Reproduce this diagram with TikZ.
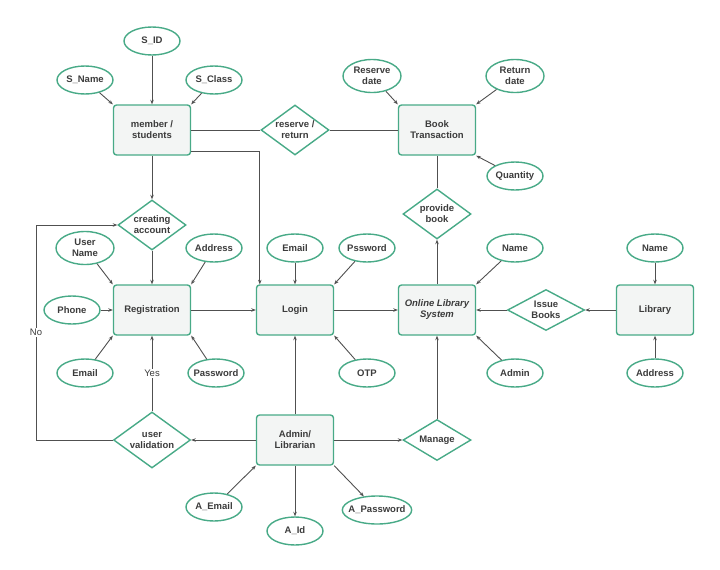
\documentclass[tikz,border=0pt]{standalone}
\usepackage{fontspec}
\setmainfont{Liberation Sans}
\usetikzlibrary{shapes.geometric,arrows.meta}
\definecolor{ergreen}{RGB}{72,170,135}
\definecolor{erline}{RGB}{80,80,80}
\definecolor{erfill}{RGB}{243,245,244}
\definecolor{ertext}{RGB}{60,60,60}
\tikzset{
  erfont/.style={text=ertext, font=\bfseries\fontsize{9.5}{11}\selectfont},
  ent/.style={erfont, draw=ergreen, line width=1.4pt, fill=erfill, rounded corners=3pt,
    minimum width=77pt, minimum height=50pt, align=center},
  attr/.style={erfont, ellipse, draw=ergreen, line width=1.4pt, fill=white,
    minimum width=56pt, minimum height=28pt, inner xsep=-4pt, inner ysep=0.5pt, align=center},
  twoline/.style={minimum width=58pt, minimum height=33pt},
  rel/.style={erfont, diamond, draw=ergreen, line width=1.4pt, fill=white, aspect=1.4,
    minimum width=68pt, minimum height=50pt, inner sep=0pt, align=center},
  con/.style={draw=erline, line width=0.9pt},
  arr/.style={con, -{Stealth[length=4.5pt,width=3.5pt]}},
  lbl/.style={fill=white, text=ertext, inner sep=1.5pt, font=\fontsize{9.5}{11}\selectfont}
}
\begin{document}
\begin{tikzpicture}[x=1pt, y=-1pt]
\useasboundingbox (0,0) rectangle (720,570);
% entities
\node[ent] (member) at (152,130) {member /\\students};
\node[ent] (bt) at (437,130) {Book\\Transaction};
\node[ent] (reg) at (152,310) {Registration};
\node[ent] (login) at (295,310) {Login};
\node[ent] (ols) at (437,310) {\itshape Online Library\\\itshape System};
\node[ent] (lib) at (655,310) {Library};
\node[ent] (admin) at (295,440) {Admin/\\Librarian};
% relations
\node[rel] (resret) at (295,130) {reserve /\\return};
\node[rel] (creating) at (152,225) {creating\\account};
\node[rel] (provide) at (437,214) {provide\\book};
\node[rel, minimum width=77pt, minimum height=41pt] (issue) at (546,310) {Issue\\Books};
\node[rel, minimum width=77pt, minimum height=56pt] (uval) at (152,440) {user\\validation};
\node[rel, minimum height=41pt] (manage) at (437,440) {Manage};
% attributes
\node[attr] (sid) at (152,41) {S\_ID};
\node[attr] (sname) at (85,80) {S\_Name};
\node[attr] (sclass) at (214,80) {S\_Class};
\node[attr, twoline] (rdate) at (372,76) {Reserve\\date};
\node[attr, twoline] (retdate) at (515,76) {Return\\date};
\node[attr] (qty) at (515,176) {Quantity};
\node[attr, twoline] (uname) at (85,248) {User\\Name};
\node[attr] (raddr) at (214,248) {Address};
\node[attr] (lemail) at (295,248) {Email};
\node[attr] (lpass) at (367,248) {Pssword};
\node[attr] (oname) at (515,248) {Name};
\node[attr] (libname) at (655,248) {Name};
\node[attr] (phone) at (72,310) {Phone};
\node[attr] (remail) at (85,373) {Email};
\node[attr] (rpass) at (216,373) {Password};
\node[attr] (otp) at (367,373) {OTP};
\node[attr] (oadmin) at (515,373) {Admin};
\node[attr] (libaddr) at (655,373) {Address};
\node[attr] (aemail) at (214,507) {A\_Email};
\node[attr] (aid) at (295,531) {A\_Id};
\node[attr] (apass) at (377,510) {A\_Password};
\coordinate (noturnA) at (36,440);
\coordinate (noturnB) at (36,225);
% attribute links
\foreach \a/\e/\p in {sid/member/north, sname/member/north west, sclass/member/north east,
  rdate/bt/north west, retdate/bt/north east, qty/bt/south east,
  uname/reg/north west, raddr/reg/north east, phone/reg/west, remail/reg/south west,
  rpass/reg/south east, lemail/login/north, lpass/login/north east, otp/login/south east,
  oname/ols/north east, oadmin/ols/south east, libname/lib/north, libaddr/lib/south,
  aemail/admin/south west}
{
\draw[arr] (\a) -- (\e.\p);
}
% relation links
\draw[con] (member) -- (resret);
\draw[con] (resret) -- (bt);
\draw[con] (bt) -- (provide);
\draw[arr] (ols) -- (provide);
\draw[arr] (member) -- (creating);
\draw[arr] (creating) -- (reg);
\draw[arr] ([yshift=4pt]member.south east) -| ([xshift=4pt]login.north west);
\draw[arr] (reg) -- (login);
\draw[arr] (login) -- (ols);
\draw[arr] (lib) -- (issue);
\draw[arr] (issue) -- (ols);
\draw[arr] (admin) -- (login);
\draw[arr] (admin) -- (manage);
\draw[arr] (manage) -- (ols);
\draw[arr] (admin) -- (uval);
\draw[arr] (admin) -- (aid);
\draw[arr] (admin.south east) -- (apass);
\draw[arr] (uval) -- node[lbl] {Yes} (reg);
\draw[arr] (uval.west) -- (noturnA) -- node[lbl] {No} (noturnB) -- (creating.west);
\end{tikzpicture}
\end{document}
